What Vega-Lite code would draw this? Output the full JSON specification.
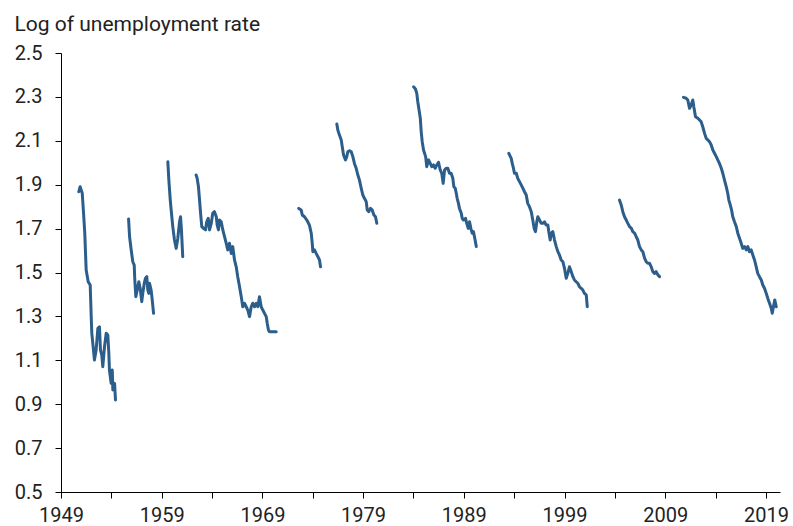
{
  "$schema": "https://vega.github.io/schema/vega-lite/v6.json",
  "autosize": {"type": "none"},
  "width": 719,
  "height": 439,
  "padding": {"left": 61, "top": 53, "right": 13, "bottom": 34},
  "background": "white",
  "config": {"view": {"stroke": null}, "font": "Roboto"},
  "datasets": {
    "u": [
      {"seg": 1, "year": 1950.77, "v": 1.868}, {"seg": 1, "year": 1950.90, "v": 1.891}, {"seg": 1, "year": 1951.11, "v": 1.861},
      {"seg": 1, "year": 1951.24, "v": 1.770}, {"seg": 1, "year": 1951.36, "v": 1.680}, {"seg": 1, "year": 1951.50, "v": 1.511},
      {"seg": 1, "year": 1951.70, "v": 1.458}, {"seg": 1, "year": 1951.90, "v": 1.443}, {"seg": 1, "year": 1952.00, "v": 1.299},
      {"seg": 1, "year": 1952.06, "v": 1.223}, {"seg": 1, "year": 1952.16, "v": 1.177}, {"seg": 1, "year": 1952.32, "v": 1.101},
      {"seg": 1, "year": 1952.49, "v": 1.147}, {"seg": 1, "year": 1952.66, "v": 1.246}, {"seg": 1, "year": 1952.82, "v": 1.253},
      {"seg": 1, "year": 1952.92, "v": 1.147}, {"seg": 1, "year": 1953.05, "v": 1.124}, {"seg": 1, "year": 1953.15, "v": 1.071},
      {"seg": 1, "year": 1953.32, "v": 1.162}, {"seg": 1, "year": 1953.49, "v": 1.223}, {"seg": 1, "year": 1953.65, "v": 1.215},
      {"seg": 1, "year": 1953.75, "v": 1.132}, {"seg": 1, "year": 1953.81, "v": 1.056}, {"seg": 1, "year": 1953.98, "v": 0.995},
      {"seg": 1, "year": 1954.09, "v": 1.056}, {"seg": 1, "year": 1954.15, "v": 0.965}, {"seg": 1, "year": 1954.32, "v": 0.995},
      {"seg": 1, "year": 1954.41, "v": 0.919},

      {"seg": 2, "year": 1955.71, "v": 1.744}, {"seg": 2, "year": 1955.81, "v": 1.663}, {"seg": 2, "year": 1955.97, "v": 1.603},
      {"seg": 2, "year": 1956.13, "v": 1.549}, {"seg": 2, "year": 1956.27, "v": 1.534}, {"seg": 2, "year": 1956.33, "v": 1.466},
      {"seg": 2, "year": 1956.43, "v": 1.390}, {"seg": 2, "year": 1956.57, "v": 1.420}, {"seg": 2, "year": 1956.73, "v": 1.458},
      {"seg": 2, "year": 1956.86, "v": 1.428}, {"seg": 2, "year": 1957.02, "v": 1.367}, {"seg": 2, "year": 1957.12, "v": 1.405},
      {"seg": 2, "year": 1957.27, "v": 1.451}, {"seg": 2, "year": 1957.39, "v": 1.474}, {"seg": 2, "year": 1957.52, "v": 1.481},
      {"seg": 2, "year": 1957.62, "v": 1.420}, {"seg": 2, "year": 1957.72, "v": 1.405}, {"seg": 2, "year": 1957.79, "v": 1.451},
      {"seg": 2, "year": 1957.95, "v": 1.420}, {"seg": 2, "year": 1958.06, "v": 1.375}, {"seg": 2, "year": 1958.19, "v": 1.314},

      {"seg": 3, "year": 1959.61, "v": 2.005}, {"seg": 3, "year": 1959.71, "v": 1.921}, {"seg": 3, "year": 1959.85, "v": 1.830},
      {"seg": 3, "year": 1959.97, "v": 1.770}, {"seg": 3, "year": 1960.10, "v": 1.709}, {"seg": 3, "year": 1960.27, "v": 1.648},
      {"seg": 3, "year": 1960.44, "v": 1.610}, {"seg": 3, "year": 1960.60, "v": 1.656}, {"seg": 3, "year": 1960.77, "v": 1.731},
      {"seg": 3, "year": 1960.87, "v": 1.754}, {"seg": 3, "year": 1960.96, "v": 1.694}, {"seg": 3, "year": 1961.09, "v": 1.572},

      {"seg": 4, "year": 1962.42, "v": 1.944}, {"seg": 4, "year": 1962.52, "v": 1.929}, {"seg": 4, "year": 1962.65, "v": 1.891},
      {"seg": 4, "year": 1962.76, "v": 1.830}, {"seg": 4, "year": 1962.86, "v": 1.770}, {"seg": 4, "year": 1962.98, "v": 1.709},
      {"seg": 4, "year": 1963.15, "v": 1.701}, {"seg": 4, "year": 1963.35, "v": 1.694}, {"seg": 4, "year": 1963.47, "v": 1.731},
      {"seg": 4, "year": 1963.62, "v": 1.747}, {"seg": 4, "year": 1963.75, "v": 1.694}, {"seg": 4, "year": 1963.92, "v": 1.724},
      {"seg": 4, "year": 1964.07, "v": 1.770}, {"seg": 4, "year": 1964.24, "v": 1.777}, {"seg": 4, "year": 1964.42, "v": 1.754},
      {"seg": 4, "year": 1964.51, "v": 1.716}, {"seg": 4, "year": 1964.64, "v": 1.694}, {"seg": 4, "year": 1964.74, "v": 1.739},
      {"seg": 4, "year": 1964.91, "v": 1.731}, {"seg": 4, "year": 1965.07, "v": 1.694}, {"seg": 4, "year": 1965.24, "v": 1.663},
      {"seg": 4, "year": 1965.41, "v": 1.633}, {"seg": 4, "year": 1965.56, "v": 1.603}, {"seg": 4, "year": 1965.73, "v": 1.633},
      {"seg": 4, "year": 1965.91, "v": 1.587}, {"seg": 4, "year": 1966.06, "v": 1.618}, {"seg": 4, "year": 1966.23, "v": 1.557},
      {"seg": 4, "year": 1966.40, "v": 1.526}, {"seg": 4, "year": 1966.55, "v": 1.481}, {"seg": 4, "year": 1966.73, "v": 1.435},
      {"seg": 4, "year": 1966.90, "v": 1.390}, {"seg": 4, "year": 1967.05, "v": 1.344}, {"seg": 4, "year": 1967.22, "v": 1.360},
      {"seg": 4, "year": 1967.39, "v": 1.344}, {"seg": 4, "year": 1967.55, "v": 1.329}, {"seg": 4, "year": 1967.72, "v": 1.299},
      {"seg": 4, "year": 1967.89, "v": 1.344}, {"seg": 4, "year": 1968.04, "v": 1.360}, {"seg": 4, "year": 1968.22, "v": 1.344},
      {"seg": 4, "year": 1968.39, "v": 1.360}, {"seg": 4, "year": 1968.54, "v": 1.344}, {"seg": 4, "year": 1968.71, "v": 1.390},
      {"seg": 4, "year": 1968.88, "v": 1.344}, {"seg": 4, "year": 1969.04, "v": 1.329}, {"seg": 4, "year": 1969.21, "v": 1.314},
      {"seg": 4, "year": 1969.38, "v": 1.299}, {"seg": 4, "year": 1969.48, "v": 1.269}, {"seg": 4, "year": 1969.60, "v": 1.238},
      {"seg": 4, "year": 1969.70, "v": 1.230}, {"seg": 4, "year": 1970.03, "v": 1.230}, {"seg": 4, "year": 1970.37, "v": 1.230},

      {"seg": 5, "year": 1972.61, "v": 1.792}, {"seg": 5, "year": 1972.85, "v": 1.785}, {"seg": 5, "year": 1972.96, "v": 1.762},
      {"seg": 5, "year": 1973.18, "v": 1.754}, {"seg": 5, "year": 1973.41, "v": 1.739}, {"seg": 5, "year": 1973.67, "v": 1.716},
      {"seg": 5, "year": 1973.85, "v": 1.679}, {"seg": 5, "year": 1973.95, "v": 1.633}, {"seg": 5, "year": 1974.01, "v": 1.595},
      {"seg": 5, "year": 1974.17, "v": 1.603}, {"seg": 5, "year": 1974.34, "v": 1.587}, {"seg": 5, "year": 1974.51, "v": 1.572},
      {"seg": 5, "year": 1974.67, "v": 1.557}, {"seg": 5, "year": 1974.77, "v": 1.526},

      {"seg": 6, "year": 1976.39, "v": 2.177}, {"seg": 6, "year": 1976.49, "v": 2.149}, {"seg": 6, "year": 1976.65, "v": 2.126},
      {"seg": 6, "year": 1976.83, "v": 2.104}, {"seg": 6, "year": 1976.93, "v": 2.073}, {"seg": 6, "year": 1977.06, "v": 2.035},
      {"seg": 6, "year": 1977.25, "v": 2.013}, {"seg": 6, "year": 1977.38, "v": 2.028}, {"seg": 6, "year": 1977.48, "v": 2.050},
      {"seg": 6, "year": 1977.65, "v": 2.055}, {"seg": 6, "year": 1977.82, "v": 2.050}, {"seg": 6, "year": 1977.98, "v": 2.028},
      {"seg": 6, "year": 1978.14, "v": 1.997}, {"seg": 6, "year": 1978.31, "v": 1.975}, {"seg": 6, "year": 1978.48, "v": 1.944},
      {"seg": 6, "year": 1978.64, "v": 1.921}, {"seg": 6, "year": 1978.81, "v": 1.884}, {"seg": 6, "year": 1978.97, "v": 1.853},
      {"seg": 6, "year": 1979.13, "v": 1.838}, {"seg": 6, "year": 1979.31, "v": 1.823}, {"seg": 6, "year": 1979.41, "v": 1.785},
      {"seg": 6, "year": 1979.57, "v": 1.777}, {"seg": 6, "year": 1979.73, "v": 1.792}, {"seg": 6, "year": 1979.90, "v": 1.785},
      {"seg": 6, "year": 1980.07, "v": 1.762}, {"seg": 6, "year": 1980.23, "v": 1.754}, {"seg": 6, "year": 1980.36, "v": 1.724},

      {"seg": 7, "year": 1984.01, "v": 2.346}, {"seg": 7, "year": 1984.20, "v": 2.336}, {"seg": 7, "year": 1984.33, "v": 2.316},
      {"seg": 7, "year": 1984.43, "v": 2.278}, {"seg": 7, "year": 1984.53, "v": 2.248}, {"seg": 7, "year": 1984.68, "v": 2.203},
      {"seg": 7, "year": 1984.77, "v": 2.141}, {"seg": 7, "year": 1984.87, "v": 2.096}, {"seg": 7, "year": 1985.00, "v": 2.058},
      {"seg": 7, "year": 1985.21, "v": 2.028}, {"seg": 7, "year": 1985.32, "v": 1.982}, {"seg": 7, "year": 1985.50, "v": 2.013},
      {"seg": 7, "year": 1985.67, "v": 1.997}, {"seg": 7, "year": 1985.82, "v": 1.982}, {"seg": 7, "year": 1985.99, "v": 1.990},
      {"seg": 7, "year": 1986.16, "v": 1.975}, {"seg": 7, "year": 1986.32, "v": 1.990}, {"seg": 7, "year": 1986.49, "v": 2.002},
      {"seg": 7, "year": 1986.66, "v": 1.967}, {"seg": 7, "year": 1986.81, "v": 1.952}, {"seg": 7, "year": 1986.95, "v": 1.906},
      {"seg": 7, "year": 1987.09, "v": 1.967}, {"seg": 7, "year": 1987.25, "v": 1.975}, {"seg": 7, "year": 1987.41, "v": 1.975},
      {"seg": 7, "year": 1987.58, "v": 1.952}, {"seg": 7, "year": 1987.74, "v": 1.952}, {"seg": 7, "year": 1987.91, "v": 1.929},
      {"seg": 7, "year": 1988.01, "v": 1.891}, {"seg": 7, "year": 1988.15, "v": 1.884}, {"seg": 7, "year": 1988.25, "v": 1.861},
      {"seg": 7, "year": 1988.34, "v": 1.838}, {"seg": 7, "year": 1988.47, "v": 1.815}, {"seg": 7, "year": 1988.57, "v": 1.792},
      {"seg": 7, "year": 1988.75, "v": 1.770}, {"seg": 7, "year": 1988.84, "v": 1.747}, {"seg": 7, "year": 1988.97, "v": 1.739},
      {"seg": 7, "year": 1989.17, "v": 1.747}, {"seg": 7, "year": 1989.29, "v": 1.724}, {"seg": 7, "year": 1989.44, "v": 1.701},
      {"seg": 7, "year": 1989.57, "v": 1.731}, {"seg": 7, "year": 1989.70, "v": 1.701}, {"seg": 7, "year": 1989.83, "v": 1.679},
      {"seg": 7, "year": 1989.96, "v": 1.686}, {"seg": 7, "year": 1990.09, "v": 1.656}, {"seg": 7, "year": 1990.24, "v": 1.618},

      {"seg": 8, "year": 1993.47, "v": 2.043}, {"seg": 8, "year": 1993.71, "v": 2.020}, {"seg": 8, "year": 1993.81, "v": 1.997},
      {"seg": 8, "year": 1993.93, "v": 1.975}, {"seg": 8, "year": 1994.03, "v": 1.952}, {"seg": 8, "year": 1994.21, "v": 1.952},
      {"seg": 8, "year": 1994.36, "v": 1.929}, {"seg": 8, "year": 1994.53, "v": 1.914}, {"seg": 8, "year": 1994.70, "v": 1.899},
      {"seg": 8, "year": 1994.86, "v": 1.884}, {"seg": 8, "year": 1995.03, "v": 1.868}, {"seg": 8, "year": 1995.20, "v": 1.853},
      {"seg": 8, "year": 1995.35, "v": 1.815}, {"seg": 8, "year": 1995.52, "v": 1.800}, {"seg": 8, "year": 1995.70, "v": 1.777},
      {"seg": 8, "year": 1995.85, "v": 1.739}, {"seg": 8, "year": 1995.99, "v": 1.701}, {"seg": 8, "year": 1996.12, "v": 1.686},
      {"seg": 8, "year": 1996.25, "v": 1.731}, {"seg": 8, "year": 1996.35, "v": 1.754}, {"seg": 8, "year": 1996.52, "v": 1.739},
      {"seg": 8, "year": 1996.69, "v": 1.724}, {"seg": 8, "year": 1996.85, "v": 1.724}, {"seg": 8, "year": 1997.01, "v": 1.731},
      {"seg": 8, "year": 1997.18, "v": 1.716}, {"seg": 8, "year": 1997.35, "v": 1.716}, {"seg": 8, "year": 1997.44, "v": 1.686},
      {"seg": 8, "year": 1997.58, "v": 1.648}, {"seg": 8, "year": 1997.68, "v": 1.679}, {"seg": 8, "year": 1997.84, "v": 1.686},
      {"seg": 8, "year": 1998.01, "v": 1.648}, {"seg": 8, "year": 1998.18, "v": 1.618}, {"seg": 8, "year": 1998.34, "v": 1.595},
      {"seg": 8, "year": 1998.50, "v": 1.580}, {"seg": 8, "year": 1998.67, "v": 1.557}, {"seg": 8, "year": 1998.84, "v": 1.549},
      {"seg": 8, "year": 1999.00, "v": 1.519}, {"seg": 8, "year": 1999.17, "v": 1.474}, {"seg": 8, "year": 1999.33, "v": 1.496},
      {"seg": 8, "year": 1999.49, "v": 1.526}, {"seg": 8, "year": 1999.67, "v": 1.504}, {"seg": 8, "year": 1999.83, "v": 1.481},
      {"seg": 8, "year": 1999.99, "v": 1.466}, {"seg": 8, "year": 2000.16, "v": 1.458}, {"seg": 8, "year": 2000.32, "v": 1.451},
      {"seg": 8, "year": 2000.49, "v": 1.435}, {"seg": 8, "year": 2000.66, "v": 1.428}, {"seg": 8, "year": 2000.82, "v": 1.420},
      {"seg": 8, "year": 2000.98, "v": 1.405}, {"seg": 8, "year": 2001.16, "v": 1.398}, {"seg": 8, "year": 2001.26, "v": 1.344},

      {"seg": 9, "year": 2004.46, "v": 1.830}, {"seg": 9, "year": 2004.63, "v": 1.808}, {"seg": 9, "year": 2004.79, "v": 1.777},
      {"seg": 9, "year": 2004.96, "v": 1.754}, {"seg": 9, "year": 2005.13, "v": 1.739}, {"seg": 9, "year": 2005.29, "v": 1.724},
      {"seg": 9, "year": 2005.46, "v": 1.709}, {"seg": 9, "year": 2005.64, "v": 1.701}, {"seg": 9, "year": 2005.78, "v": 1.686},
      {"seg": 9, "year": 2005.96, "v": 1.679}, {"seg": 9, "year": 2006.12, "v": 1.663}, {"seg": 9, "year": 2006.28, "v": 1.648},
      {"seg": 9, "year": 2006.45, "v": 1.618}, {"seg": 9, "year": 2006.62, "v": 1.603}, {"seg": 9, "year": 2006.78, "v": 1.595},
      {"seg": 9, "year": 2006.95, "v": 1.565}, {"seg": 9, "year": 2007.11, "v": 1.549}, {"seg": 9, "year": 2007.27, "v": 1.542},
      {"seg": 9, "year": 2007.45, "v": 1.542}, {"seg": 9, "year": 2007.61, "v": 1.526}, {"seg": 9, "year": 2007.77, "v": 1.504},
      {"seg": 9, "year": 2007.94, "v": 1.496}, {"seg": 9, "year": 2008.10, "v": 1.504}, {"seg": 9, "year": 2008.27, "v": 1.489},
      {"seg": 9, "year": 2008.44, "v": 1.481},

      {"seg": 10, "year": 2010.82, "v": 2.298}, {"seg": 10, "year": 2011.08, "v": 2.294}, {"seg": 10, "year": 2011.24, "v": 2.286},
      {"seg": 10, "year": 2011.42, "v": 2.248}, {"seg": 10, "year": 2011.58, "v": 2.263}, {"seg": 10, "year": 2011.74, "v": 2.286},
      {"seg": 10, "year": 2011.84, "v": 2.255}, {"seg": 10, "year": 2012.01, "v": 2.210}, {"seg": 10, "year": 2012.24, "v": 2.203},
      {"seg": 10, "year": 2012.41, "v": 2.195}, {"seg": 10, "year": 2012.57, "v": 2.187}, {"seg": 10, "year": 2012.73, "v": 2.164},
      {"seg": 10, "year": 2012.91, "v": 2.134}, {"seg": 10, "year": 2013.07, "v": 2.111}, {"seg": 10, "year": 2013.23, "v": 2.104},
      {"seg": 10, "year": 2013.40, "v": 2.096}, {"seg": 10, "year": 2013.57, "v": 2.081}, {"seg": 10, "year": 2013.73, "v": 2.058},
      {"seg": 10, "year": 2013.90, "v": 2.043}, {"seg": 10, "year": 2014.07, "v": 2.028}, {"seg": 10, "year": 2014.22, "v": 2.013},
      {"seg": 10, "year": 2014.39, "v": 1.997}, {"seg": 10, "year": 2014.57, "v": 1.975}, {"seg": 10, "year": 2014.72, "v": 1.952},
      {"seg": 10, "year": 2014.89, "v": 1.921}, {"seg": 10, "year": 2015.06, "v": 1.891}, {"seg": 10, "year": 2015.21, "v": 1.861},
      {"seg": 10, "year": 2015.32, "v": 1.830}, {"seg": 10, "year": 2015.46, "v": 1.808}, {"seg": 10, "year": 2015.59, "v": 1.785},
      {"seg": 10, "year": 2015.71, "v": 1.754}, {"seg": 10, "year": 2015.88, "v": 1.731}, {"seg": 10, "year": 2016.06, "v": 1.709},
      {"seg": 10, "year": 2016.21, "v": 1.679}, {"seg": 10, "year": 2016.38, "v": 1.656}, {"seg": 10, "year": 2016.55, "v": 1.633},
      {"seg": 10, "year": 2016.70, "v": 1.610}, {"seg": 10, "year": 2016.88, "v": 1.618}, {"seg": 10, "year": 2017.05, "v": 1.603},
      {"seg": 10, "year": 2017.20, "v": 1.618}, {"seg": 10, "year": 2017.37, "v": 1.595}, {"seg": 10, "year": 2017.54, "v": 1.603},
      {"seg": 10, "year": 2017.70, "v": 1.580}, {"seg": 10, "year": 2017.87, "v": 1.557}, {"seg": 10, "year": 2018.04, "v": 1.526},
      {"seg": 10, "year": 2018.19, "v": 1.496}, {"seg": 10, "year": 2018.36, "v": 1.481}, {"seg": 10, "year": 2018.54, "v": 1.466},
      {"seg": 10, "year": 2018.69, "v": 1.443}, {"seg": 10, "year": 2018.86, "v": 1.428}, {"seg": 10, "year": 2019.03, "v": 1.405},
      {"seg": 10, "year": 2019.19, "v": 1.382}, {"seg": 10, "year": 2019.36, "v": 1.360}, {"seg": 10, "year": 2019.53, "v": 1.337},
      {"seg": 10, "year": 2019.63, "v": 1.314}, {"seg": 10, "year": 2019.75, "v": 1.344}, {"seg": 10, "year": 2019.88, "v": 1.375},
      {"seg": 10, "year": 2020.03, "v": 1.344}
    ]
  },
  "data": {"name": "u"},
  "mark": {"type": "line", "color": "#2c5e8c", "strokeWidth": 3, "strokeJoin": "round", "strokeCap": "round"},
  "encoding": {
    "detail": {"field": "seg", "type": "nominal"},
    "x": {
      "field": "year", "type": "quantitative",
      "scale": {"domain": [1949, 2020.4], "nice": false, "zero": false},
      "axis": {
        "title": null,
        "values": [1949, 1954, 1959, 1964, 1969, 1974, 1979, 1984, 1989, 1994, 1999, 2004, 2009, 2014, 2019],
        "format": "d",
        "labelExpr": "(datum.value - 1949) % 10 == 0 ? datum.label : ''",
        "labelOverlap": false, "labelFlush": false, "labelBound": false,
        "grid": false, "domainColor": "#000", "tickColor": "#000", "tickSize": 6,
        "labelFont": "Roboto", "labelFontSize": 20, "labelColor": "#222", "labelPadding": 7
      }
    },
    "y": {
      "field": "v", "type": "quantitative",
      "scale": {"domain": [0.5, 2.5], "nice": false, "zero": false},
      "axis": {
        "values": [0.5, 0.7, 0.9, 1.1, 1.3, 1.5, 1.7, 1.9, 2.1, 2.3, 2.5],
        "format": ".1f",
        "grid": false, "domainColor": "#000", "tickColor": "#000", "tickSize": 6,
        "labelFont": "Roboto", "labelFontSize": 20, "labelColor": "#222", "labelPadding": 13,
        "labelOverlap": false, "labelFlush": false,
        "title": "Log of unemployment rate",
        "titleAngle": 0, "titleAlign": "left", "titleBaseline": "alphabetic",
        "titleX": -47, "titleY": -23,
        "titleFont": "Roboto", "titleFontSize": 21, "titleFontWeight": "normal", "titleColor": "#222"
      }
    }
  }
}
